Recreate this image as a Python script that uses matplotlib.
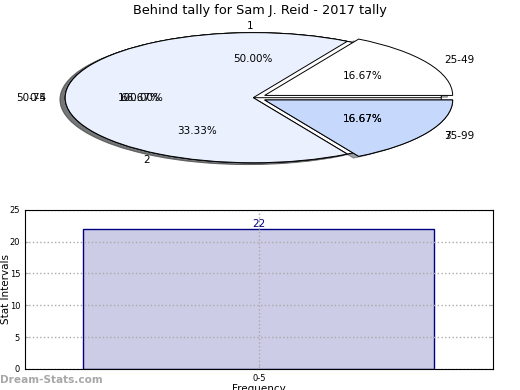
import matplotlib
matplotlib.use("Agg")
import matplotlib.pyplot as plt

# pie data (three pies drawn on top of each other, as in the source)
pie_a_labels = ["0-5"]
pie_a_values = [1]
pie_b_labels = ["1", "2", "3"]
pie_b_values = [3, 2, 1]
pie_c_labels = ["25-49", "50-74", "75-99"]
pie_c_values = [1, 4, 1]

# bar data
bar_labels = ["0-5"]
bar_values = [22]

title = "Behind tally for Sam J. Reid - 2017 tally"
pie_colors = ["#ffffff", "#eaf0fe", "#c6d9fd"]
wedge_style = {"edgecolor": "black", "linewidth": 0.7}
txt = {"fontsize": 7.5}

fig = plt.figure(figsize=(5.2, 3.9), dpi=100)

ax1 = fig.add_axes([0.035, 0.541, 0.904, 0.417])
ax1.pie(pie_a_values, labels=pie_a_labels, autopct="%.2f%%", colors=pie_colors[:1],
        shadow=True, wedgeprops=wedge_style, textprops=txt)
ax1.pie(pie_b_values, labels=pie_b_labels, autopct="%.2f%%", colors=pie_colors,
        explode=[0, 0, 0.07], wedgeprops=wedge_style, textprops=txt)
ax1.pie(pie_c_values, labels=pie_c_labels, autopct="%.2f%%", colors=pie_colors,
        explode=[0.07, 0, 0.07], shadow=True, wedgeprops=wedge_style,
        textprops=txt)
ax1.set_aspect("auto")
ax1.set_xlim(-1.25, 1.25)
ax1.set_ylim(-1.25, 1.25)
fig.text(0.5, 0.973, title, ha="center", va="center", fontsize=9.3)

ax2 = fig.add_axes([0.048, 0.054, 0.9, 0.408])
xs = list(range(len(bar_values)))
ax2.bar(xs, bar_values, width=0.75, color="#ccccE6", edgecolor="#000080", linewidth=1)
for x, v in zip(xs, bar_values):
    ax2.text(x, v, str(v), ha="center", va="bottom", color="#000080", fontsize=7.5)
ax2.set_xlim(-0.5, 0.5)
ax2.set_ylim(0, 25)
ax2.set_yticks([0, 5, 10, 15, 20, 25])
ax2.set_xticks(xs)
ax2.set_xticklabels(bar_labels)
ax2.grid(True, linestyle=":", color="#aaaaaa", linewidth=1)
ax2.set_axisbelow(False)
for s in ax2.spines.values():
    s.set_zorder(3)
ax2.tick_params(labelsize=6, length=2, color="#aaaaaa", direction="in", right=True)
ax2.set_ylabel("Stat Intervals", fontsize=7.5)
ax2.yaxis.set_label_coords(-0.029, 0.5)
ax2.set_xlabel("Frequency", fontsize=7.5, labelpad=1)

fig.text(0.0, 0.025, "Dream-Stats.com", color="#a8a8a8", fontsize=7.6,
         fontweight="bold", ha="left", va="center")

fig.savefig("out.png")
